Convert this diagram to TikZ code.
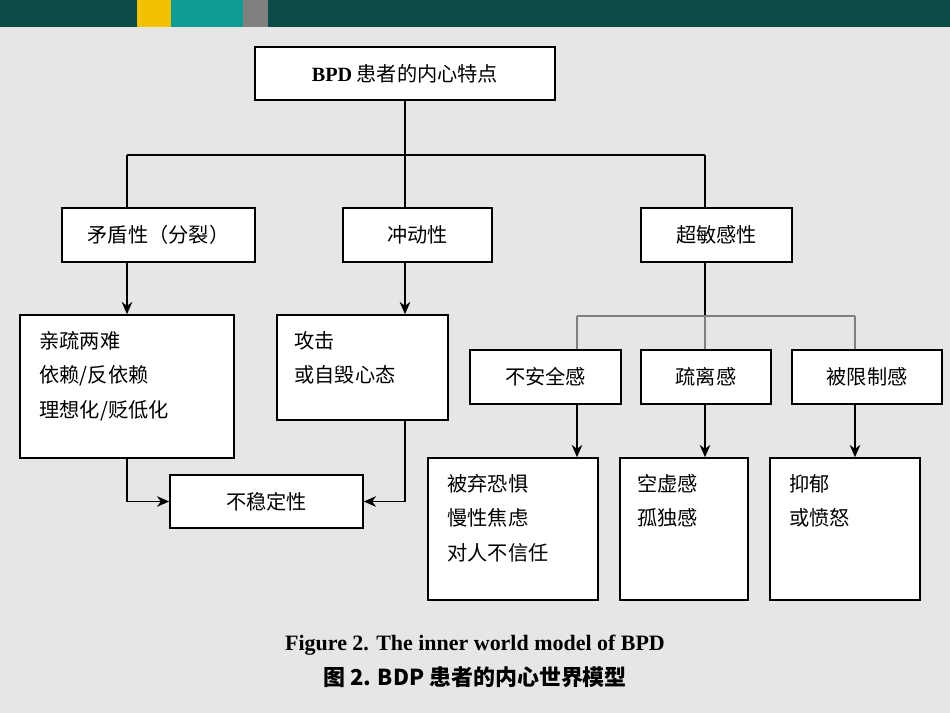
\documentclass[tikz,border=0pt]{standalone}
\usepackage{fontspec}
\setmainfont{Liberation Serif}
\newfontfamily\cjk{Noto Sans CJK SC}
\usetikzlibrary{arrows.meta}
\definecolor{bgray}{HTML}{E6E6E6}
\definecolor{barteal}{HTML}{0B4B45}
\definecolor{midteal}{HTML}{0E9C94}
\definecolor{baryel}{HTML}{F2C200}
\begin{document}
\begin{tikzpicture}[x=0.02cm,y=-0.02cm,
		box/.style={draw, line width=0.9pt, fill=white, inner sep=0pt, font=\cjk\fontsize{11.5}{19}\selectfont},
		txt/.style={anchor=north west, align=left, inner sep=0pt, font=\cjk\fontsize{11.5}{19.5}\selectfont},
		line/.style={line width=0.9pt},
		arr/.style={line width=0.9pt, -{Stealth[length=7pt,width=6pt]}}
	]
	\useasboundingbox (0,0) rectangle (950,713);
	\fill[bgray] (0,0) rectangle (950,713);
	% top bar
	\fill[barteal] (0,0) rectangle (950,27);
	\fill[baryel] (137,0) rectangle (171,27);
	\fill[midteal] (171,0) rectangle (243,27);
	\fill[gray] (243,0) rectangle (268,27);
	
	% first level
	\node[box, minimum width=300*0.02cm, minimum height=53*0.02cm] (root) at (405,73.5) {{\rmfamily\bfseries BPD} 患者的内心特点};
	\node[box, minimum width=193*0.02cm, minimum height=54*0.02cm] (mao) at (158.5,235) {矛盾性（分裂）};
	\node[box, minimum width=149*0.02cm, minimum height=54*0.02cm] (chong) at (417.5,235) {冲动性};
	\node[box, minimum width=151*0.02cm, minimum height=54*0.02cm] (chao) at (716.5,235) {超敏感性};
	
	% second level
	\node[box, minimum width=214*0.02cm, minimum height=143*0.02cm] (list) at (127,386.5) {};
	\node[txt] at ([shift={(20,17)}]list.north west) {亲疏两难\\依赖/反依赖\\理想化/贬低化};
	\node[box, minimum width=171*0.02cm, minimum height=105*0.02cm] (gong) at (362.5,367.5) {};
	\node[txt] at ([shift={(18,17)}]gong.north west) {攻击\\或自毁心态};
	\node[box, minimum width=193*0.02cm, minimum height=53*0.02cm] (buwen) at (266.5,501.5) {不稳定性};
	
	\node[box, minimum width=151*0.02cm, minimum height=54*0.02cm] (buan) at (545.5,377) {不安全感};
	\node[box, minimum width=130*0.02cm, minimum height=54*0.02cm] (shuli) at (706,377) {疏离感};
	\node[box, minimum width=150*0.02cm, minimum height=54*0.02cm] (bei) at (867,377) {被限制感};
	
	% third level
	\node[box, minimum width=170*0.02cm, minimum height=142*0.02cm] (qi) at (513,529) {};
	\node[txt] at ([shift={(20,17)}]qi.north west) {被弃恐惧\\慢性焦虑\\对人不信任};
	\node[box, minimum width=128*0.02cm, minimum height=142*0.02cm] (kong) at (684,529) {};
	\node[txt] at ([shift={(18,17)}]kong.north west) {空虚感\\孤独感};
	\node[box, minimum width=150*0.02cm, minimum height=142*0.02cm] (yi) at (845,529) {};
	\node[txt] at ([shift={(20,17)}]yi.north west) {抑郁\\或愤怒};
	
	% connectors
	\coordinate (split) at (405,155);
	\coordinate (sa) at (127,155);
	\coordinate (sc) at (705,155);
	\coordinate (ksplit) at (705,316);
	\coordinate (ka) at (577,316);
	\coordinate (kc) at (855,316);
	\draw[line] (root.south) -- (split);
	\draw[line] (sa) -- (sc);
	\draw[line] (sa) -- (mao.north -| sa);
	\draw[line] (split) -- (chong.north -| split);
	\draw[line] (sc) -- (chao.north -| sc);
	\draw[arr] (mao.south -| sa) -- (list.north -| sa);
	\draw[arr] (chong.south -| split) -- (gong.north -| split);
	\draw[line] (chao.south -| ksplit) -- (ksplit);
	\draw[line, gray] (ka) -- (kc);
	\draw[line, gray] (ka) -- (buan.north -| ka);
	\draw[line, gray] (ksplit) -- (shuli.north -| ksplit);
	\draw[line, gray] (kc) -- (bei.north -| kc);
	\draw[arr] (buan.south -| ka) -- (qi.north -| ka);
	\draw[arr] (shuli.south -| ksplit) -- (kong.north -| ksplit);
	\draw[arr] (bei.south -| kc) -- (yi.north -| kc);
	\draw[arr] (list.south) |- (buwen.west);
	\draw[arr] (gong.south -| split) |- (buwen.east);
	
	% caption
	\node[font=\bfseries\fontsize{12.5}{15}\selectfont] (cap) at (475,645) {Figure 2. The inner world model of BPD};
	\node[font=\cjk\bfseries\fontsize{12.5}{15}\selectfont] (capcn) at (475,677) {图 2. BDP 患者的内心世界模型};
\end{tikzpicture}
\end{document}
